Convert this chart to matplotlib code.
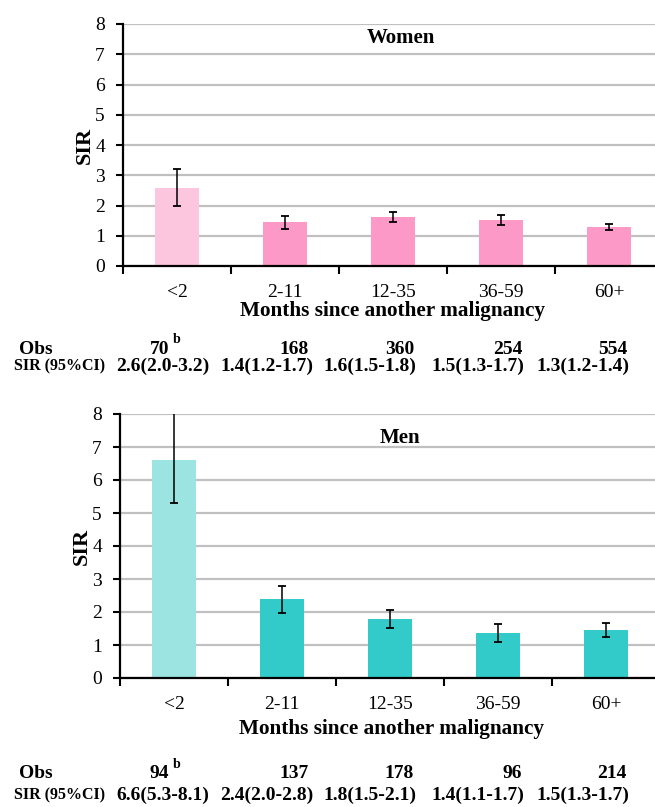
import numpy as np
import matplotlib
matplotlib.use('Agg')
import matplotlib.pyplot as plt

plt.rcParams['font.family'] = ['Liberation Serif', 'DejaVu Serif']

categories = ['<2', '2-11', '12-35', '36-59', '60+']

# women
women_sir = [2.57, 1.45, 1.63, 1.52, 1.28]
women_lo = [2.0, 1.22, 1.47, 1.35, 1.19]
women_hi = [3.22, 1.65, 1.80, 1.68, 1.38]
women_obs = ['70', '168', '360', '254', '554']
women_txt = ['2.6(2.0-3.2)', '1.4(1.2-1.7)', '1.6(1.5-1.8)', '1.5(1.3-1.7)', '1.3(1.2-1.4)']

# men
men_sir = [6.6, 2.38, 1.80, 1.36, 1.45]
men_lo = [5.3, 1.98, 1.53, 1.08, 1.24]
men_hi = [8.1, 2.78, 2.06, 1.64, 1.67]
men_obs = ['94', '137', '178', '96', '214']
men_txt = ['6.6(5.3-8.1)', '2.4(2.0-2.8)', '1.8(1.5-2.1)', '1.4(1.1-1.7)', '1.5(1.3-1.7)']

W, H = 655, 807
fig = plt.figure(figsize=(W / 100, H / 100), dpi=100)


def px(x, y):
    return x / W, 1 - y / H


def panel(rect, sir, lo, hi, colors, title, title_xy):
    ax = fig.add_axes(rect)
    x = np.arange(len(categories))
    sir = np.array(sir)
    err = [sir - np.array(lo), np.array(hi) - sir]
    ax.bar(x, sir, width=0.41, color=colors, zorder=2)
    ax.errorbar(x, sir, yerr=err, fmt='none', ecolor='black', elinewidth=1.1,
                capsize=3, capthick=1.3, zorder=3)
    ax.set_xlim(-0.5, 4.5)
    ax.set_ylim(0, 8)
    ax.set_yticks(range(9))
    ax.yaxis.grid(True, color='#c0c0c0', lw=1.6, zorder=0)
    ax.set_axisbelow(True)
    ax.set_xticks(x)
    ax.set_xticklabels(categories, fontsize=14)
    ax.set_xticks(np.arange(-0.5, 5, 1), minor=True)
    ax.tick_params(axis='x', which='major', length=0, pad=13)
    ax.tick_params(axis='x', which='minor', length=6, width=1.5, direction='out')
    ax.tick_params(axis='y', length=5, width=1.5, labelsize=14, pad=8)
    for s in ['top', 'right']:
        ax.spines[s].set_visible(False)
    for s in ['left', 'bottom']:
        ax.spines[s].set_linewidth(1.6)
    ax.set_ylabel('SIR', fontsize=16, fontweight='bold', labelpad=0)
    ax.set_xlabel('Months since another malignancy', fontsize=15.3, fontweight='bold')
    ax.xaxis.label.set_va('center')
    fig.text(*px(*title_xy), title, fontsize=15, fontweight='bold', ha='center', va='center')
    return ax


# top panel: axis x 123..663, y 24..266
l, t = px(123, 24)
r, b = px(663, 266)
ax1 = panel([l, b, r - l, t - b], women_sir, women_lo, women_hi,
            ['#fcc6df'] + ['#fc99c6'] * 4, 'Women', (401, 38))
ax1.xaxis.set_label_coords((392 - 123) / 540, -(311 - 266) / 242, transform=ax1.transAxes)

# bottom panel: axis x 120..660, y 414..678
l, t = px(120, 414)
r, b = px(660, 678)
ax2 = panel([l, b, r - l, t - b], men_sir, men_lo, men_hi,
            ['#9be4e2'] + ['#33cbca'] * 4, 'Men', (400, 438))
ax2.xaxis.set_label_coords((392 - 120) / 540, -(729 - 678) / 264, transform=ax2.transAxes)

# tables below each panel
obs_right = [169, 309, 414, 522, 627]
txt_right = [209, 313, 416, 524, 629]


def table(obs, txt, y_obs, y_txt):
    fig.text(*px(19, y_obs), 'Obs', fontsize=14, fontweight='bold', ha='left', va='center')
    fig.text(*px(14, y_txt), 'SIR (95%CI)', fontsize=11.5, fontweight='bold', ha='left', va='center')
    for i in range(len(obs)):
        fig.text(*px(obs_right[i], y_obs), obs[i], fontsize=14, fontweight='bold',
                 ha='right', va='center')
        if i == 0:
            fig.text(*px(obs_right[i] + 4, y_obs - 9), 'b', fontsize=10, fontweight='bold',
                     ha='left', va='center')
        fig.text(*px(txt_right[i], y_txt), txt[i], fontsize=14, fontweight='bold',
                 ha='right', va='center')


table(women_obs, women_txt, 349, 366)
table(men_obs, men_txt, 773, 795)

fig.savefig('out.png', dpi=100)
